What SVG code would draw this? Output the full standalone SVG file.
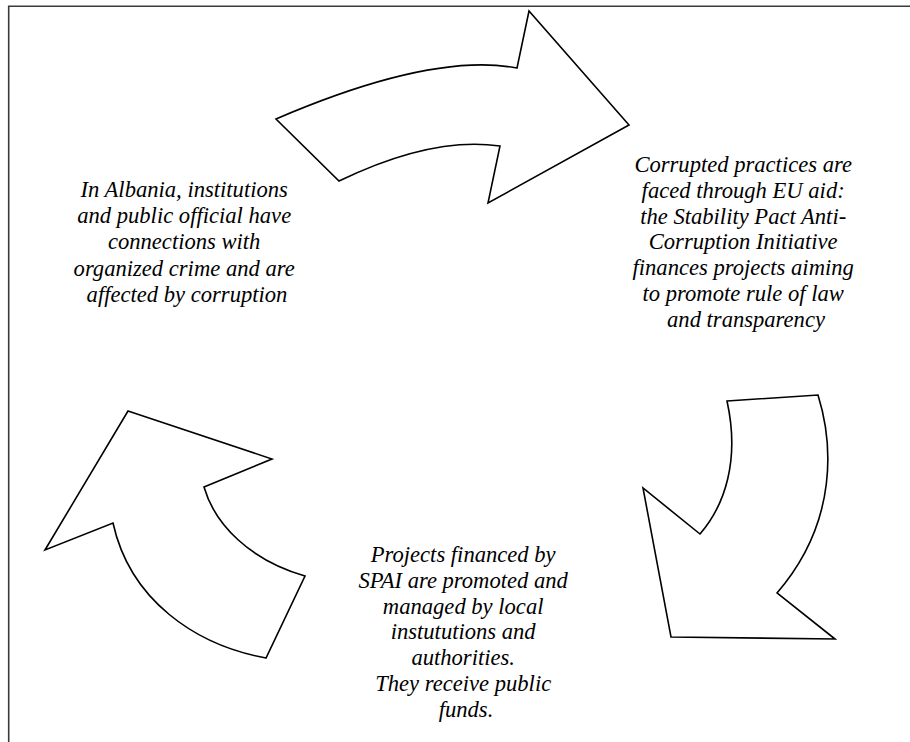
<svg xmlns="http://www.w3.org/2000/svg" width="910" height="742" viewBox="0 0 910 742">
<style>
.arrow{fill:#fff;stroke:#000;stroke-width:1.6;stroke-linejoin:miter}
.t{font-style:italic;font-size:22.6px;fill:#000;text-anchor:middle}
</style>
<rect width="910" height="742" fill="#fff"/>
<path d="M8.7,742 V6.3 H910" fill="none" stroke="#3a3a3a" stroke-width="1.6"/>
<g id="connectors">
<path id="arrow-top" class="arrow" d="M276,119 Q432,52 517,68 L529,11 L629,125 L488,203 L500,146 Q432,136 339,181 Z"/>
<path id="arrow-right" class="arrow" d="M727,401 L818,395 C832,440 840,520 777,593 L835,639 L671,637 L643,488 L700,534 C725,505 740,460 727,401 Z"/>
<path id="arrow-left" class="arrow" d="M128,411 L272,459 L204,487 C215,525 250,560 305,576 L266,658 C195,645 130,600 113,523 L45,550 Z"/>
</g>
<g id="node-albania">
<text class="t" font-family="Liberation Serif, Times New Roman, DejaVu Serif, serif" x="187" y="197">
<tspan x="187">In Albania, institutions</tspan>
<tspan x="187" dy="26.2">and public official have</tspan>
<tspan x="187" dy="26.2">connections with</tspan>
<tspan x="187" dy="26.2">organized crime and are</tspan>
<tspan x="187" dy="26.2">affected by corruption</tspan>
</text>
</g>
<g id="node-eu-aid">
<text class="t" font-family="Liberation Serif, Times New Roman, DejaVu Serif, serif" x="746" y="172">
<tspan x="746">Corrupted practices are</tspan>
<tspan x="746" dy="25.8">faced through EU aid:</tspan>
<tspan x="746" dy="25.8">the Stability Pact Anti-</tspan>
<tspan x="746" dy="25.8">Corruption Initiative</tspan>
<tspan x="746" dy="25.8">finances projects aiming</tspan>
<tspan x="746" dy="25.8">to promote rule of law</tspan>
<tspan x="746" dy="25.8">and transparency</tspan>
</text>
</g>
<g id="node-spai">
<text class="t" font-family="Liberation Serif, Times New Roman, DejaVu Serif, serif" x="466" y="562">
<tspan x="466">Projects financed by</tspan>
<tspan x="466" dy="25.8">SPAI are promoted and</tspan>
<tspan x="466" dy="25.8">managed by local</tspan>
<tspan x="466" dy="25.8">instututions and</tspan>
<tspan x="466" dy="25.8">authorities.</tspan>
<tspan x="466" dy="25.8">They receive public</tspan>
<tspan x="466" dy="25.8">funds.</tspan>
</text>
</g>
</svg>
